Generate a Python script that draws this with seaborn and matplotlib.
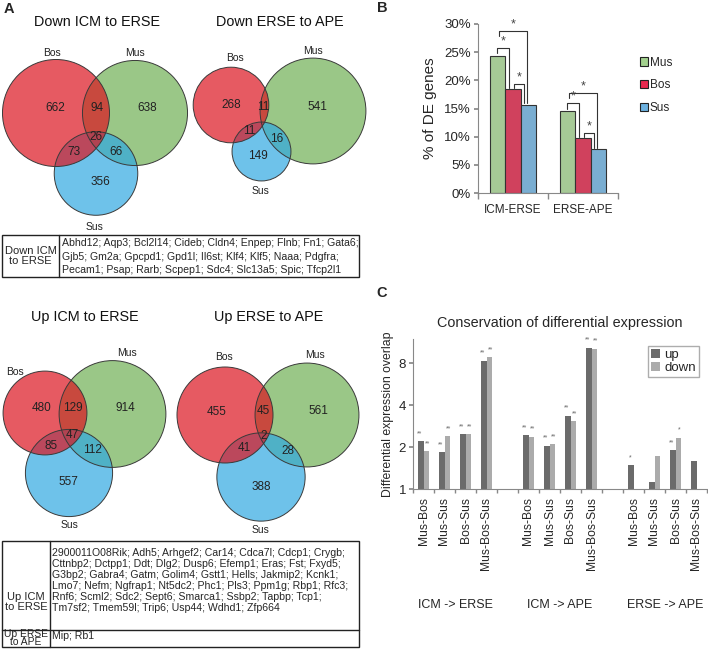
import numpy as np
import pandas as pd
import matplotlib
matplotlib.use("Agg")
import matplotlib.pyplot as plt
from matplotlib.patches import Circle, Rectangle
import seaborn as sns

# ---------------- panel A: venn region counts ----------------
venn_titles = ["Down ICM to ERSE", "Down ERSE to APE", "Up ICM to ERSE", "Up ERSE to APE"]
bos_only = [662, 268, 480, 455]
mus_only = [638, 541, 914, 561]
sus_only = [356, 149, 557, 388]
bos_mus = [94, 11, 129, 45]
bos_sus = [73, 11, 85, 41]
mus_sus = [66, 16, 112, 28]
bos_mus_sus = [26, None, 47, 2]

# gene tables
down_icm_label = "Down ICM\nto ERSE"
down_icm_genes = ["Abhd12; Aqp3; Bcl2l14; Cideb; Cldn4; Enpep; Flnb; Fn1; Gata6;",
                  "Gjb5; Gm2a; Gpcpd1; Gpd1l; Il6st; Klf4; Klf5; Naaa; Pdgfra;",
                  "Pecam1; Psap; Rarb; Scpep1; Sdc4; Slc13a5; Spic; Tfcp2l1"]
up_icm_label = "Up ICM\nto ERSE"
up_icm_genes = ["2900011O08Rik; Adh5; Arhgef2; Car14; Cdca7l; Cdcp1; Crygb;",
                "Cttnbp2; Dctpp1; Ddt; Dlg2; Dusp6; Efemp1; Eras; Fst; Fxyd5;",
                "G3bp2; Gabra4; Gatm; Golim4; Gstt1; Hells; Jakmip2; Kcnk1;",
                "Lmo7; Nefm; Ngfrap1; Nt5dc2; Phc1; Pls3; Ppm1g; Rbp1; Rfc3;",
                "Rnf6; Scml2; Sdc2; Sept6; Smarca1; Ssbp2; Tapbp; Tcp1;",
                "Tm7sf2; Tmem59l; Trip6; Usp44; Wdhd1; Zfp664"]
up_erse_label = "Up ERSE\nto APE"
up_erse_genes = ["Mip; Rb1"]

# ---------------- panel B ----------------
b_stages = ["ICM-ERSE", "ERSE-APE"]
b_species = ["Mus", "Bos", "Sus"]
b_mus = [24.4, 14.6]
b_bos = [18.4, 9.7]
b_sus = [15.7, 7.8]

# ---------------- panel C ----------------
c_groups = ["ICM -> ERSE", "ICM -> APE", "ERSE -> APE"]
c_pairs = ["Mus-Bos", "Mus-Sus", "Bos-Sus", "Mus-Bos-Sus"]
c_up = [2.2, 1.84, 2.47, 8.3, 2.43, 2.05, 3.35, 10.3, 1.48, 1.13, 1.89, 1.58]
c_down = [1.87, 2.39, 2.46, 8.8, 2.37, 2.09, 3.06, 10.1, np.nan, 1.73, 2.33, np.nan]
c_up_sig = ["**"] * 8 + ["*", "", "**", ""]
c_down_sig = ["**"] * 8 + ["", "", "*", ""]

# ---------------- style ----------------
sns.set_theme(style="ticks")
plt.rcParams['font.family'] = ['Liberation Sans', 'DejaVu Sans']
W, H = 708, 649
fig = plt.figure(figsize=(W / 100, H / 100), dpi=100)


def frac(x0, y0, x1, y1):
    # pixel box (top-left origin) -> figure fraction rect
    return [x0 / W, 1 - y1 / H, (x1 - x0) / W, (y1 - y0) / H]


# overlay axes in pixel units for venns / tables / letters
ov = fig.add_axes([0, 0, 1, 1])
ov.set_xlim(0, W)
ov.set_ylim(H, 0)
ov.axis("off")

venn_colors = {"Bos": (220 / 255, 20 / 255, 32 / 255),
               "Mus": (112 / 255, 176 / 255, 84 / 255),
               "Sus": (48 / 255, 169 / 255, 226 / 255)}
# layout per diagram: scale, centres, set-label positions, count positions, title position
layouts = [
    dict(k=1.83, c={"Bos": (56, 113), "Mus": (135, 113), "Sus": (96, 173.5)},
         lab={"Bos": (52, 53), "Mus": (135, 53), "Sus": (95, 227)},
         pos=[(55, 108), (147, 108), (100, 182), (97, 108), (74, 152), (116, 152), (96, 137)],
         title=(97, 22)),
    dict(k=2.22, c={"Bos": (231, 105), "Mus": (313, 111), "Sus": (261.5, 151.5)},
         lab={"Bos": (235, 58), "Mus": (313, 51), "Sus": (261, 191)},
         pos=[(231, 105), (317, 107), (258, 156), (263, 107), (249, 131), (277, 139), None],
         title=(280, 22)),
    dict(k=1.54, c={"Bos": (45, 413), "Mus": (112.5, 414), "Sus": (69, 473)},
         lab={"Bos": (15, 372), "Mus": (127, 353), "Sus": (70, 525)},
         pos=[(42, 408), (125, 408), (68, 482), (73, 408), (51, 446), (92, 450), (72, 435)],
         title=(85, 317)),
    dict(k=2.06, c={"Bos": (225, 415), "Mus": (307, 415), "Sus": (261, 477)},
         lab={"Bos": (224, 357), "Mus": (315, 355), "Sus": (261, 530)},
         pos=[(217, 412), (318, 411), (261, 487), (263, 411), (244, 448), (288, 451), (264, 436)],
         title=(269, 317)),
]

for i, lay in enumerate(layouts):
    counts = [bos_only[i], mus_only[i], sus_only[i], bos_mus[i], bos_sus[i], mus_sus[i], bos_mus_sus[i]]
    tri = bos_mus_sus[i] or 0
    totals = {"Bos": bos_only[i] + bos_mus[i] + bos_sus[i] + tri,
              "Mus": mus_only[i] + bos_mus[i] + mus_sus[i] + tri,
              "Sus": sus_only[i] + bos_sus[i] + mus_sus[i] + tri}
    for sp in ["Mus", "Sus", "Bos"]:
        r = lay["k"] * np.sqrt(totals[sp])
        ov.add_patch(Circle(lay["c"][sp], r, facecolor=venn_colors[sp], alpha=0.7,
                            edgecolor="none"))
    for sp in ["Mus", "Sus", "Bos"]:
        r = lay["k"] * np.sqrt(totals[sp])
        ov.add_patch(Circle(lay["c"][sp], r, facecolor="none", edgecolor="#3a3a3a", lw=0.7))
        ov.text(*lay["lab"][sp], sp, ha="center", va="center", fontsize=7.5, color="#222")
    for n, p in zip(counts, lay["pos"]):
        if n is None or p is None:
            continue
        ov.text(p[0], p[1], str(n), ha="center", va="center", fontsize=8.5, color="#222")
    ov.text(*lay["title"], venn_titles[i], ha="center", va="center", fontsize=10.4, color="#111")

# tables
tab_kw = dict(fill=False, edgecolor="#222", lw=1.0)
ov.add_patch(Rectangle((2, 235), 357, 42, **tab_kw))
ov.plot([59, 59], [235, 277], color="#222", lw=1.0)
ov.text(30.5, 256, down_icm_label, ha="center", va="center", fontsize=8.0, linespacing=1.1)
for j, line in enumerate(down_icm_genes):
    ov.text(62, 243 + 13.5 * j, line, ha="left", va="center", fontsize=7.6)

ov.add_patch(Rectangle((2, 541), 357, 106, **tab_kw))
ov.plot([2, 359], [630, 630], color="#222", lw=1.0)
ov.plot([50, 50], [541, 647], color="#222", lw=1.0)
ov.text(26, 602, up_icm_label, ha="center", va="center", fontsize=8.0, linespacing=1.1)
for j, line in enumerate(up_icm_genes):
    ov.text(52, 553 + 11 * j, line, ha="left", va="center", fontsize=7.6)
ov.text(26, 638, up_erse_label, ha="center", va="center", fontsize=7.4, linespacing=0.85)
ov.text(52, 636, up_erse_genes[0], ha="left", va="center", fontsize=7.6)

# panel letters
ov.text(9, 9, "A", fontsize=10.5, fontweight="bold", ha="center", va="center")
ov.text(382, 8, "B", fontsize=10.5, fontweight="bold", ha="center", va="center")
ov.text(382, 293, "C", fontsize=10.5, fontweight="bold", ha="center", va="center")

# ---------------- panel B ----------------
dfb = pd.DataFrame({"stage": np.repeat(b_stages, 3),
                    "species": b_species * 2,
                    "pct": [v for t in zip(b_mus, b_bos, b_sus) for v in t]})
b_pal = {"Mus": "#a3d18e", "Bos": "#e8294f", "Sus": "#6cb1e0"}
axb = fig.add_axes(frac(478, 24, 618, 193))
sns.barplot(data=dfb, x="stage", y="pct", hue="species", order=b_stages, hue_order=b_species,
            palette=b_pal, width=0.67, edgecolor="#333", linewidth=0.8, ax=axb, legend=False)
axb.set_xlim(-0.5, 1.5)
axb.set_ylim(0, 30)
axb.set_yticks(range(0, 31, 5))
axb.set_yticklabels([f"{v}%" for v in range(0, 31, 5)], fontsize=9.5)
axb.set_xticks([0, 1])
axb.set_xticklabels(b_stages, fontsize=8.5)
axb.tick_params(axis="x", length=0, pad=8)
axb.set_xticks([-0.5, 0.5, 1.5], minor=True)
axb.tick_params(axis="x", which="minor", length=4, color="#888")
axb.tick_params(axis="y", length=3, color="#888", pad=2)
axb.set_xlabel("")
axb.set_ylabel("% of DE genes", fontsize=11, labelpad=5)
sns.despine(ax=axb)
for s in ["left", "bottom"]:
    axb.spines[s].set_color("#888")
    axb.spines[s].set_linewidth(0.8)

bw = 0.67 / 3
offs = {"Mus": -bw, "Bos": 0.0, "Sus": bw}


def bracket(ax, x1, x2, top, y1, y2):
    ax.plot([x1, x1, x2, x2], [y1, top, top, y2], color="#333", lw=0.8, clip_on=False)
    ax.text((x1 + x2) / 2, top + 0.1, "*", ha="center", va="bottom", fontsize=9, color="#444")


for g, (mv, bv, sv) in enumerate(zip(b_mus, b_bos, b_sus)):
    xm, xb, xs = g + offs["Mus"], g + offs["Bos"], g + offs["Sus"]
    bracket(axb, xm, xb - 0.06, mv + 1.4, mv + 0.4, bv + 0.2)
    bracket(axb, xb + 0.02, xs - 0.07, bv + 0.9, bv + 0.2, sv + 0.2)
    bracket(axb, xm + 0.03, xs - 0.02, mv + 4.4 if g == 0 else mv + 3.2,
            mv + 3.5 if g == 0 else mv + 2.3, sv + 0.2)

handles = [Rectangle((0, 0), 1, 1, facecolor=b_pal[s], edgecolor="#222", lw=0.8) for s in b_species]
axb.legend(handles, b_species, loc="upper left", bbox_to_anchor=(1.08, 0.87), frameon=False,
           fontsize=8.5, handlelength=0.7, handleheight=0.7, handletextpad=0.15, labelspacing=0.9)

# ---------------- panel C ----------------
slot = [gi * 5 + pi for gi in range(3) for pi in range(4)]
dfc = pd.DataFrame({"slot": slot * 2,
                    "val": c_up + c_down,
                    "dir": ["up"] * 12 + ["down"] * 12})
c_pal = {"up": "#6b6b6b", "down": "#ababab"}
axc = fig.add_axes(frac(413, 339, 707, 489))
sns.barplot(data=dfc, x="slot", y="val", hue="dir", hue_order=["up", "down"], palette=c_pal,
            native_scale=True, width=0.5, linewidth=0, ax=axc, legend=False)
axc.set_yscale("log", base=2)
axc.set_ylim(1, 11.9)
axc.set_yticks([1, 2, 4, 8])
axc.set_yticklabels(["1", "2", "4", "8"], fontsize=9.5)
axc.yaxis.set_minor_locator(matplotlib.ticker.NullLocator())
axc.set_xlim(-0.5, 13.5)
axc.set_xticks(slot)
axc.set_xticklabels(c_pairs * 3, rotation=90, fontsize=8.7)
axc.tick_params(axis="x", length=0, pad=6)
axc.set_xticks(np.arange(-0.5, 14, 1), minor=True)
axc.tick_params(axis="x", which="minor", length=3, color="#888")
axc.tick_params(axis="y", length=3, color="#888", pad=2)
axc.set_xlabel("")
axc.set_ylabel("Differential expression overlap", fontsize=8.8, labelpad=3)
axc.set_title("Conservation of differential expression", fontsize=10.4, pad=9)
sns.despine(ax=axc)
for s in ["left", "bottom"]:
    axc.spines[s].set_color("#888")
    axc.spines[s].set_linewidth(0.8)

for x, u, d, su, sd in zip(slot, c_up, c_down, c_up_sig, c_down_sig):
    if su:
        axc.text(x - 0.17, u * 1.07, su, ha="center", va="bottom", fontsize=5, color="#666")
    if sd and not np.isnan(d):
        axc.text(x + 0.2, d * 1.07, sd, ha="center", va="bottom", fontsize=5, color="#666")

for gi, g in enumerate(c_groups):
    axc.text(gi * 5 + 1.5, -0.77, g, transform=axc.get_xaxis_transform(), ha="center",
             va="center", fontsize=9)

leg_h = [Rectangle((0, 0), 1, 1, facecolor=c_pal[k], edgecolor="none") for k in ["up", "down"]]
axc.legend(leg_h, ["up", "down"], loc="upper right", bbox_to_anchor=(0.995, 1.0), fontsize=9.5,
           frameon=True, fancybox=False, edgecolor="#999", handlelength=0.7, handleheight=0.7,
           handletextpad=0.3, labelspacing=0.05, borderpad=0.25)

fig.savefig("out.png", dpi=100)
